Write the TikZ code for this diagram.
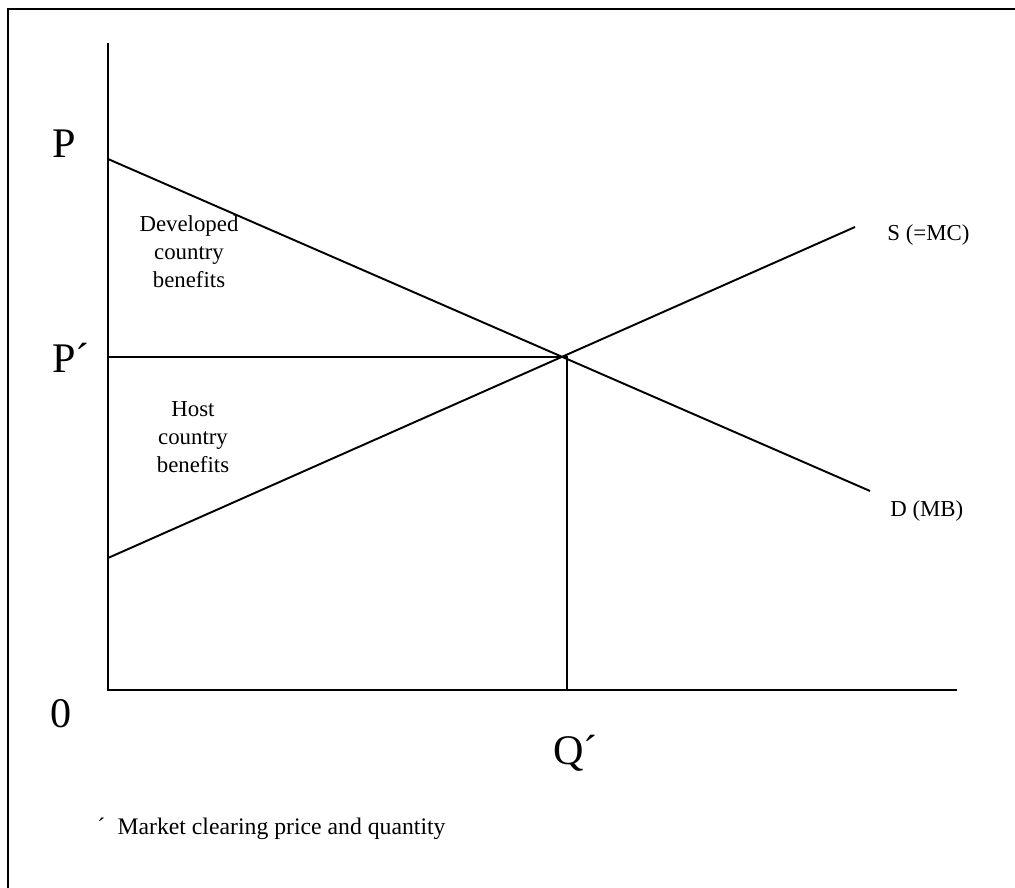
\documentclass[tikz,border=0pt]{standalone}
\usepackage{fontspec}
\setmainfont{Liberation Serif}
\usetikzlibrary{positioning}

\begin{document}
\begin{tikzpicture}[x=0.02cm,y=-0.02cm,
  big/.style={font=\fontsize{24}{28}\selectfont,inner sep=0pt,anchor=base west},
  lbl/.style={font=\fontsize{13}{16}\selectfont,inner sep=0pt},
  area/.style={lbl,align=center},
  wire/.style={line width=1.1pt},
  frm/.style={line width=1.3pt}]
\useasboundingbox (0,0) rectangle (1015,888);

% --- frame (only top and left show) -----------------------------------
\coordinate (fcorner) at (8,9);
\coordinate (fright) at (1015,9);
\coordinate (fbottom) at (8,888);
\draw[frm] (fbottom) -- (fcorner) -- (fright);

% --- axes -------------------------------------------------------------
\coordinate (origin) at (108,690);
\coordinate (ytop) at (108,43);
\coordinate (xend) at (957,690);
\draw[wire] (ytop) -- (origin) -- (xend);

% --- demand and supply ------------------------------------------------
\coordinate (pmax) at (108,159);
\coordinate (dend) at (870,491);
\coordinate (smin) at (108,558);
\coordinate (send) at (855,227);
\coordinate (eq) at (567,357);
\coordinate (pstar) at (108,357);
\coordinate (qstar) at (567,690);
\draw[wire] (pmax) -- (dend);
\draw[wire] (smin) -- (send);
\draw[wire] (pstar) -- (eq) -- (qstar);

% --- labels -----------------------------------------------------------
\node[big] (plbl) at (52,158) {P};
\node[big] (pslbl) at (52,373) {P´};
\node[big] (zlbl) at (50,727) {0};
\node[big] (qslbl) at (553,764) {Q´};
\node[lbl,anchor=base west] (slbl) at (887,241) {S (=MC)};
\node[lbl,anchor=base west] (dlbl) at (890,517) {D (MB)};
\node[area] (devben) at (189,252) {Developed\\country\\benefits};
\node[area] (hostben) at (193,437) {Host\\country\\benefits};
\node[lbl,anchor=base west,font=\fontsize{13.5}{16}\selectfont] (note) at (97,834) {´\hspace{7pt}Market clearing price and quantity};
\end{tikzpicture}
\end{document}
